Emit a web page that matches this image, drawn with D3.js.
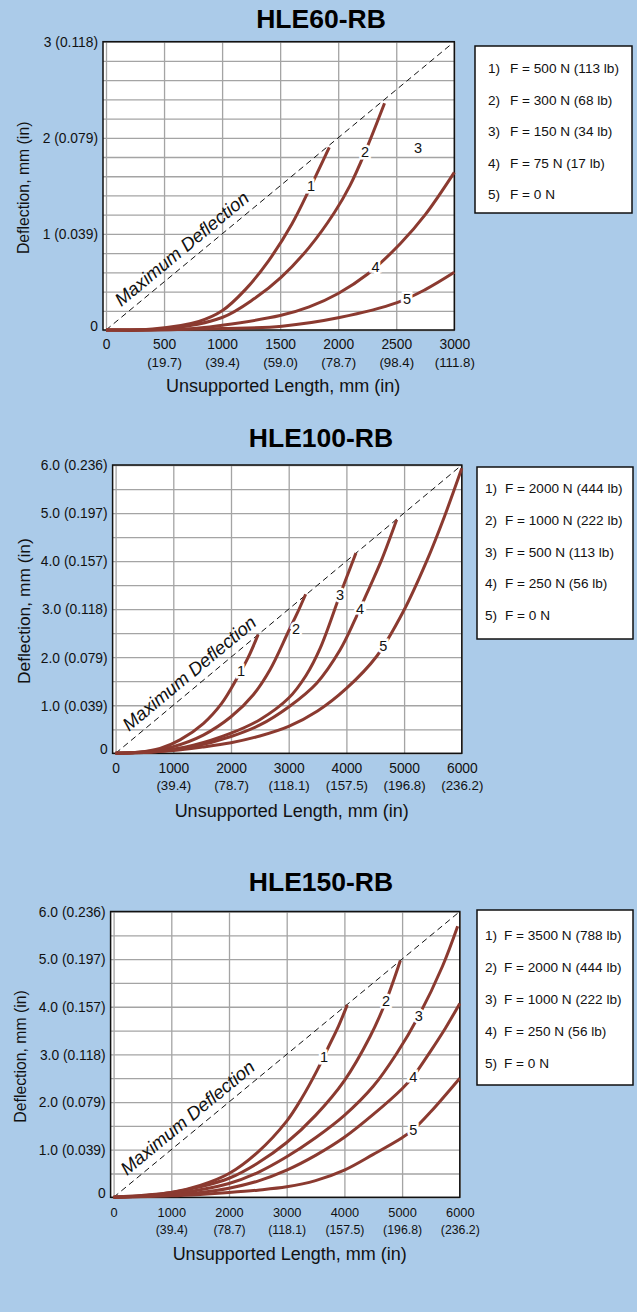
<!DOCTYPE html>
<html>
<head>
<meta charset="utf-8">
<script src="https://cdn.jsdelivr.net/npm/d3@7"></script>
<style>
body { margin: 0; background: #abcbe9; }
text { font-family: "Liberation Sans", Arial, Helvetica, sans-serif; }
</style>
</head>
<body>
<script>
// ---- HLE60-RB ----
const hle60XTicks = [0, 500, 1000, 1500, 2000, 2500, 3000];
const hle60XInch = ["", "(19.7)", "(39.4)", "(59.0)", "(78.7)", "(98.4)", "(111.8)"];
const hle60YTicks = [0, 1, 2, 3];
const hle60YLabels = ["0", "1 (0.039)", "2 (0.079)", "3 (0.118)"];
const hle60Forces = ["F = 500 N (113 lb)", "F = 300 N (68 lb)", "F = 150 N (34 lb)", "F = 75 N (17 lb)", "F = 0 N"];
const hle60Curve1 = [[0,0],[400,0.01],[800,0.09],[1000,0.2],[1200,0.42],[1400,0.72],[1600,1.1],[1766,1.5],[1923,1.9]];
const hle60Curve2 = [[0,0],[500,0.01],[1000,0.13],[1282,0.33],[1510,0.55],[1750,0.86],[1966,1.22],[2100,1.5],[2231,1.85],[2399,2.36]];
const hle60Curve4 = [[0,0],[700,0.01],[1000,0.05],[1500,0.15],[1750,0.24],[2000,0.38],[2251,0.58],[2536,0.9],[2750,1.2],[3000,1.64]];
const hle60Curve5 = [[0,0],[1000,0.015],[1516,0.04],[2011,0.13],[2507,0.285],[2750,0.42],[3000,0.6]];
const hle60Labels = [["1",1766,1.5],["2",2231,1.85],["3",2687,1.9],["4",2322,0.66],["5",2593,0.32]];

// ---- HLE100-RB ----
const hle100XTicks = [0, 1000, 2000, 3000, 4000, 5000, 6000];
const hle100XInch = ["", "(39.4)", "(78.7)", "(118.1)", "(157.5)", "(196.8)", "(236.2)"];
const hle100YTicks = [0, 1, 2, 3, 4, 5, 6];
const hle100YLabels = ["0", "1.0 (0.039)", "2.0 (0.079)", "3.0 (0.118)", "4.0 (0.157)", "5.0 (0.197)", "6.0 (0.236)"];
const hle100Forces = ["F = 2000 N (444 lb)", "F = 1000 N (222 lb)", "F = 500 N (113 lb)", "F = 250 N (56 lb)", "F = 0 N"];
const hle100Curve1 = [[0,0],[400,0.02],[770,0.1],[1116,0.28],[1520,0.62],[1838,1.04],[2098,1.55],[2300,2.0],[2470,2.47]];
const hle100Curve2 = [[0,0],[500,0.03],[1000,0.14],[1520,0.38],[2000,0.76],[2387,1.22],[2676,1.74],[2993,2.53],[3150,2.92],[3294,3.31]];
const hle100Curve3 = [[0,0],[700,0.04],[1347,0.17],[2000,0.42],[2500,0.7],[3000,1.15],[3300,1.62],[3550,2.2],[3889,3.3],[4166,4.17]];
const hle100Curve4 = [[0,0],[700,0.03],[1347,0.14],[2000,0.35],[2502,0.59],[3005,0.97],[3485,1.46],[3889,2.15],[4149,2.78],[4400,3.45],[4612,4.03],[4871,4.86]];
const hle100Curve5 = [[0,0],[1000,0.06],[1500,0.13],[2000,0.22],[2500,0.36],[3000,0.56],[3500,0.88],[4000,1.35],[4525,2.02],[4986,2.95],[5391,4.0],[5700,4.93],[6000,5.93]];
const hle100Labels = [["1",2173,1.72],["2",3126,2.6],["3",3889,3.3],["4",4235,3.0],["5",4640,2.24]];

// ---- HLE150-RB ----
const hle150XTicks = [0, 1000, 2000, 3000, 4000, 5000, 6000];
const hle150XInch = ["", "(39.4)", "(78.7)", "(118.1)", "(157.5)", "(196.8)", "(236.2)"];
const hle150YTicks = [0, 1, 2, 3, 4, 5, 6];
const hle150YLabels = ["0", "1.0 (0.039)", "2.0 (0.079)", "3.0 (0.118)", "4.0 (0.157)", "5.0 (0.197)", "6.0 (0.236)"];
const hle150Forces = ["F = 3500 N (788 lb)", "F = 2000 N (444 lb)", "F = 1000 N (222 lb)", "F = 250 N (56 lb)", "F = 0 N"];
const hle150Curve1 = [[0,0],[500,0.03],[1000,0.1],[1500,0.25],[2000,0.5],[2500,0.95],[3000,1.6],[3260,2.08],[3520,2.65],[3721,3.15],[3900,3.6],[4050,4.04]];
const hle150Curve2 = [[0,0],[1000,0.1],[1500,0.22],[2000,0.4],[2500,0.72],[3000,1.15],[3500,1.72],[4000,2.45],[4443,3.37],[4721,4.12],[4970,4.97]];
const hle150Curve3 = [[0,0],[1000,0.07],[1500,0.16],[2000,0.29],[2500,0.52],[3000,0.85],[3500,1.25],[4000,1.72],[4500,2.33],[4906,3.02],[5290,3.81],[5700,4.85],[5963,5.69]];
const hle150Curve4 = [[0,0],[1000,0.05],[1500,0.1],[2000,0.19],[2500,0.34],[3000,0.57],[3500,0.88],[4000,1.26],[4500,1.74],[5000,2.28],[5194,2.54],[5500,3.08],[5750,3.55],[6000,4.07]];
const hle150Curve5 = [[0,0],[1000,0.03],[1500,0.06],[2000,0.1],[2500,0.15],[3000,0.22],[3500,0.35],[4000,0.57],[4500,0.9],[5000,1.25],[5194,1.42],[5500,1.8],[6000,2.5]];
const hle150Labels = [["1",3646,2.95],["2",4721,4.12],["3",5290,3.81],["4",5194,2.54],["5",5194,1.42]];

const FONT = '"Liberation Sans", Arial, Helvetica, sans-serif';
const curveColor = "#8b3a30";

const svg = d3.select("body").append("svg").attr("width", 637).attr("height", 1312);
svg.append("rect").attr("width", 637).attr("height", 1312).attr("fill", "#abcbe9");

function drawChart(o) {
    const x = d3.scaleLinear().domain([0, o.xMax]).range([o.left, o.right]);
    const y = d3.scaleLinear().domain([0, o.yMax]).range([o.bottom, o.top]);
    const g = svg.append("g");
    const fl = o.left - 3;

    g.append("text").attr("x", 321).attr("y", o.titleY).attr("text-anchor", "middle")
        .attr("font-weight", "bold").attr("font-size", 26.5).text(o.title);

    g.append("rect").attr("x", fl).attr("y", o.top).attr("width", o.right - fl)
        .attr("height", o.bottom - o.top).attr("fill", "#fff");

    // grid
    const gx = g.append("g").attr("transform", `translate(0,${o.bottom})`)
        .call(d3.axisBottom(x).tickValues(o.xTicks).tickSize(-(o.bottom - o.top)).tickFormat(""));
    const gy = g.append("g").attr("transform", `translate(${fl},0)`)
        .call(d3.axisLeft(y).tickValues(d3.range(0, o.yMax + 1e-6, o.yStep)).tickSize(-(o.right - fl)).tickFormat(""));
    [gx, gy].forEach(a => {
        a.select(".domain").remove();
        a.selectAll("line").attr("stroke", "#a4a4a4").attr("stroke-width", 1.3);
    });

    // tick labels
    const xl = g.append("g").attr("transform", `translate(0,${o.bottom})`)
        .call(d3.axisBottom(x).tickValues(o.xTicks).tickSize(0).tickFormat(d => d));
    xl.select(".domain").remove();
    xl.selectAll("text").attr("y", o.xLab1).attr("dy", null)
        .attr("font-size", o.xFont).attr("fill", "#111").attr("font-family", FONT);
    xl.selectAll(".tick").append("text").attr("y", o.xLab2).attr("text-anchor", "middle")
        .attr("font-size", o.xFont - 0.5).attr("fill", "#111").attr("font-family", FONT)
        .text(d => o.xInch[o.xTicks.indexOf(d)]);

    const yl = g.append("g").attr("transform", `translate(${fl},0)`)
        .call(d3.axisLeft(y).tickValues(o.yTicks).tickSize(0).tickPadding(5)
            .tickFormat(d => o.yLabels[o.yTicks.indexOf(d)]));
    yl.select(".domain").remove();
    yl.selectAll("text").attr("font-size", 13.8).attr("fill", "#111").attr("font-family", FONT)
        .attr("dy", d => d === 0 ? "0.0em" : "0.35em");

    g.append("text").attr("x", (o.left + o.right) / 2 + 3).attr("y", o.bottom + o.xTitle)
        .attr("text-anchor", "middle").attr("font-size", 18).attr("fill", "#111")
        .text("Unsupported Length, mm (in)");
    g.append("text").attr("transform", `translate(${o.yTitleX},${(o.top + o.bottom) / 2 + 2}) rotate(-90)`)
        .attr("text-anchor", "middle").attr("font-size", o.yTitleFont).attr("fill", "#111")
        .text("Deflection, mm (in)");

    // frame
    g.append("rect").attr("x", fl).attr("y", o.top).attr("width", o.right - fl)
        .attr("height", o.bottom - o.top).attr("fill", "none").attr("stroke", "#111").attr("stroke-width", 1.5);

    // maximum deflection line
    g.append("line").attr("x1", x(0)).attr("y1", y(0)).attr("x2", x(o.maxEnd)).attr("y2", y(o.maxEnd / 1000))
        .attr("stroke", "#111").attr("stroke-width", 1).attr("stroke-dasharray", "6,4");
    const ang = Math.atan2(y(1) - y(0), x(1000) - x(0)) * 180 / Math.PI;
    g.append("text")
        .attr("transform", `translate(${x(o.textAt)},${y(o.textAt / 1000)}) rotate(${ang})`)
        .attr("dy", -8).attr("font-size", 18.5).attr("font-style", "italic").attr("fill", "#111")
        .text("Maximum Deflection");

    const line = d3.line().x(d => x(d[0])).y(d => y(d[1])).curve(d3.curveCatmullRom.alpha(0.5));
    g.selectAll(null).data(o.curves).enter().append("path")
        .attr("d", line).attr("fill", "none").attr("stroke", curveColor)
        .attr("stroke-width", 3).attr("stroke-linecap", "butt");

    g.selectAll(null).data(o.labels).enter().append("text")
        .attr("x", d => x(d[1])).attr("y", d => y(d[2])).attr("dy", "0.36em")
        .attr("text-anchor", "middle").attr("font-size", 14.5).attr("fill", "#111")
        .attr("stroke", "#fff").attr("stroke-width", 5).attr("paint-order", "stroke")
        .text(d => d[0]);

    // legend
    const lb = o.legend;
    g.append("rect").attr("x", lb[0]).attr("y", lb[1]).attr("width", lb[2] - lb[0]).attr("height", lb[3] - lb[1])
        .attr("fill", "#fff").attr("stroke", "#111").attr("stroke-width", 1.5);
    const items = g.selectAll(null).data(o.forces).enter().append("g")
        .attr("transform", (d, i) => `translate(0,${lb[4] + i * lb[5]})`);
    items.append("text").attr("x", lb[6]).attr("font-size", 13.6).attr("fill", "#111").text((d, i) => (i + 1) + ")");
    items.append("text").attr("x", lb[7]).attr("font-size", 13.6).attr("fill", "#111").text(d => d);
}

drawChart({
    title: "HLE60-RB", titleY: 27.5,
    left: 106, right: 454.3, top: 41.7, bottom: 330, xMax: 3000, yMax: 3, yStep: 0.2,
    xTicks: hle60XTicks, xInch: hle60XInch, yTicks: hle60YTicks, yLabels: hle60YLabels,
    xLab1: 18.5, xLab2: 37, xFont: 13.8, xTitle: 61.5, yTitleX: 29, yTitleFont: 15.8,
    maxEnd: 2960, textAt: 175,
    curves: [hle60Curve1, hle60Curve2, hle60Curve4, hle60Curve5], labels: hle60Labels,
    forces: hle60Forces, legend: [475, 46, 632, 213, 73, 31.5, 488, 510]
});
drawChart({
    title: "HLE100-RB", titleY: 446.5,
    left: 115.6, right: 461.8, top: 465, bottom: 753.3, xMax: 6000, yMax: 6, yStep: 0.5,
    xTicks: hle100XTicks, xInch: hle100XInch, yTicks: hle100YTicks, yLabels: hle100YLabels,
    xLab1: 19.7, xLab2: 36.7, xFont: 13.8, xTitle: 63.5, yTitleX: 30, yTitleFont: 17.4,
    maxEnd: 5960, textAt: 320,
    curves: [hle100Curve1, hle100Curve2, hle100Curve3, hle100Curve4, hle100Curve5], labels: hle100Labels,
    forces: hle100Forces, legend: [477, 467, 633, 639, 493, 31.8, 485, 505]
});
drawChart({
    title: "HLE150-RB", titleY: 890.7,
    left: 113.6, right: 459.8, top: 911.5, bottom: 1197.3, xMax: 6000, yMax: 6, yStep: 0.5,
    xTicks: hle150XTicks, xInch: hle150XInch, yTicks: hle150YTicks, yLabels: hle150YLabels,
    xLab1: 19.7, xLab2: 37.2, xFont: 12.8, xTitle: 62.7, yTitleX: 26, yTitleFont: 15.8,
    maxEnd: 5960, textAt: 320,
    curves: [hle150Curve1, hle150Curve2, hle150Curve3, hle150Curve4, hle150Curve5], labels: hle150Labels,
    forces: hle150Forces, legend: [477, 910, 633, 1085, 940, 32, 485, 504]
});
</script>
</body>
</html>
